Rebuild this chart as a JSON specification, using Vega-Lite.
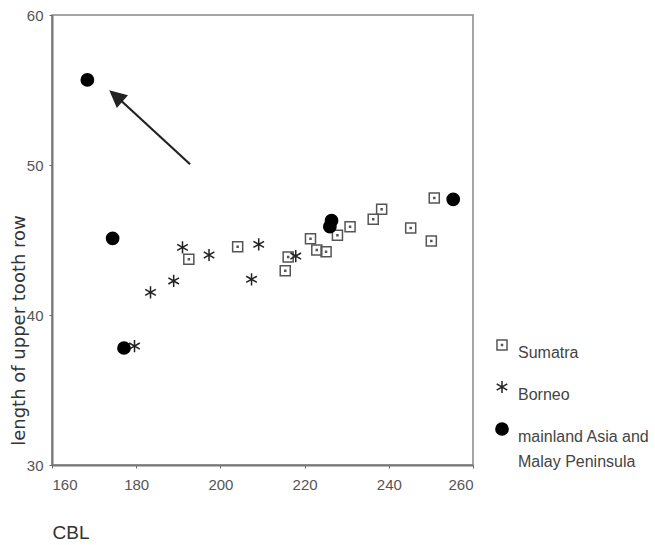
{
  "$schema": "https://vega.github.io/schema/vega-lite/v6.json",
  "autosize": {"type": "none"},
  "width": 421,
  "height": 450,
  "padding": {"left": 52, "top": 15, "right": 182, "bottom": 80},
  "background": "white",
  "config": {
    "view": {"stroke": "#888", "strokeWidth": 1.5},
    "style": {"guide-label": {"lineHeight": 25}},
    "axis": {
      "grid": false,
      "labelFont": "Liberation Sans",
      "labelFontSize": 15,
      "labelColor": "#555",
      "tickColor": "#666",
      "tickSize": 3,
      "domainColor": "#777",
      "domainWidth": 2,
      "titleFont": "Liberation Sans",
      "titleFontWeight": "normal",
      "titleColor": "#333"
    },
    "legend": {
      "labelFont": "Liberation Sans",
      "labelFontSize": 16,
      "labelColor": "#444"
    }
  },
  "datasets": {
    "pts": [
      {"CBL": 204.1, "tooth": 44.55, "group": "Sumatra"},
      {"CBL": 192.5, "tooth": 43.71, "group": "Sumatra"},
      {"CBL": 215.4, "tooth": 42.95, "group": "Sumatra"},
      {"CBL": 216.1, "tooth": 43.87, "group": "Sumatra"},
      {"CBL": 221.4, "tooth": 45.09, "group": "Sumatra"},
      {"CBL": 222.9, "tooth": 44.33, "group": "Sumatra"},
      {"CBL": 225.1, "tooth": 44.22, "group": "Sumatra"},
      {"CBL": 227.8, "tooth": 45.31, "group": "Sumatra"},
      {"CBL": 230.8, "tooth": 45.89, "group": "Sumatra"},
      {"CBL": 236.3, "tooth": 46.38, "group": "Sumatra"},
      {"CBL": 238.3, "tooth": 47.05, "group": "Sumatra"},
      {"CBL": 245.2, "tooth": 45.8, "group": "Sumatra"},
      {"CBL": 250.1, "tooth": 44.93, "group": "Sumatra"},
      {"CBL": 250.8, "tooth": 47.8, "group": "Sumatra"},
      {"CBL": 179.6, "tooth": 37.93, "group": "Borneo"},
      {"CBL": 183.4, "tooth": 41.51, "group": "Borneo"},
      {"CBL": 188.9, "tooth": 42.27, "group": "Borneo"},
      {"CBL": 191.0, "tooth": 44.51, "group": "Borneo"},
      {"CBL": 197.3, "tooth": 44.0, "group": "Borneo"},
      {"CBL": 207.4, "tooth": 42.38, "group": "Borneo"},
      {"CBL": 209.1, "tooth": 44.71, "group": "Borneo"},
      {"CBL": 217.9, "tooth": 43.93, "group": "Borneo"},
      {"CBL": 168.4, "tooth": 55.67, "group": "mainland Asia and Malay Peninsula"},
      {"CBL": 174.4, "tooth": 45.11, "group": "mainland Asia and Malay Peninsula"},
      {"CBL": 177.1, "tooth": 37.8, "group": "mainland Asia and Malay Peninsula"},
      {"CBL": 226.4, "tooth": 46.29, "group": "mainland Asia and Malay Peninsula"},
      {"CBL": 226.0, "tooth": 45.89, "group": "mainland Asia and Malay Peninsula"},
      {"CBL": 255.3, "tooth": 47.71, "group": "mainland Asia and Malay Peninsula"}
    ],
    "arrow": [
      {"x": 192.8, "y": 50.05, "x2": 175.2, "y2": 54.6}
    ]
  },
  "layer": [
    {
      "data": {"name": "arrow"},
      "mark": {"type": "rule", "color": "#222", "strokeWidth": 2.2},
      "encoding": {
        "x": {"field": "x", "type": "quantitative", "scale": {"domain": [160, 260]}},
        "y": {"field": "y", "type": "quantitative", "scale": {"domain": [30, 60]}},
        "x2": {"field": "x2"},
        "y2": {"field": "y2"}
      }
    },
    {
      "data": {"name": "arrow"},
      "mark": {"type": "point", "shape": "M0,-1L0.95,0.95L-0.95,0.95Z", "filled": true, "color": "#222", "size": 320, "angle": 311, "opacity": 1},
      "encoding": {
        "x": {"field": "x2", "type": "quantitative"},
        "y": {"field": "y2", "type": "quantitative"}
      }
    },
    {
      "data": {"name": "pts"},
      "mark": {"type": "point", "size": 150, "strokeWidth": 1.5, "opacity": 1},
      "encoding": {
        "x": {
          "field": "CBL", "type": "quantitative",
          "scale": {"domain": [160, 260], "nice": false, "zero": false},
          "axis": {
            "values": [160, 180, 200, 220, 240, 260],
            "labelPadding": 9,
            "title": "CBL",
            "titleFontSize": 19,
            "titleX": 0,
            "titleY": 67,
            "titleAlign": "left",
            "titleBaseline": "middle"
          }
        },
        "y": {
          "field": "tooth", "type": "quantitative",
          "scale": {"domain": [30, 60], "nice": false, "zero": false},
          "axis": {
            "values": [30, 40, 50, 60],
            "labelPadding": 6,
            "title": "length of upper tooth row",
            "titleFont": "DejaVu Sans",
            "titleFontSize": 18,
            "titleX": -33,
            "titleY": 315,
            "titleAngle": -90,
            "titleAlign": "center",
            "titleBaseline": "middle"
          }
        },
        "shape": {
          "field": "group", "type": "nominal",
          "scale": {
            "domain": ["Sumatra", "Borneo", "mainland Asia and Malay Peninsula"],
            "range": [
              "M-0.82,-0.82H0.82V0.82H-0.82Z M-0.08,-0.08H0.08V0.08H-0.08Z",
              "M0,-1L0,1M-0.866,-0.5L0.866,0.5M-0.866,0.5L0.866,-0.5",
              "circle"
            ]
          },
          "legend": {
            "title": null,
            "orient": "none",
            "legendX": 442,
            "legendY": 322,
            "symbolSize": 150,
            "symbolStrokeWidth": 1.5,
            "labelOffset": 8,
            "rowPadding": 16,
            "labelBaseline": "top",
            "labelExpr": "datum.label == 'mainland Asia and Malay Peninsula' ? ['mainland Asia and', 'Malay Peninsula'] : datum.label",
            "encode": {"labels": {"update": {"lineHeight": {"value": 25}, "dy": {"value": -1}}}}
          }
        },
        "fill": {
          "field": "group", "type": "nominal",
          "scale": {
            "domain": ["Sumatra", "Borneo", "mainland Asia and Malay Peninsula"],
            "range": ["transparent", "transparent", "black"]
          },
          "legend": {"title": null}
        },
        "stroke": {
          "field": "group", "type": "nominal",
          "scale": {
            "domain": ["Sumatra", "Borneo", "mainland Asia and Malay Peninsula"],
            "range": ["#555", "#222", "black"]
          },
          "legend": {"title": null}
        }
      }
    }
  ]
}
